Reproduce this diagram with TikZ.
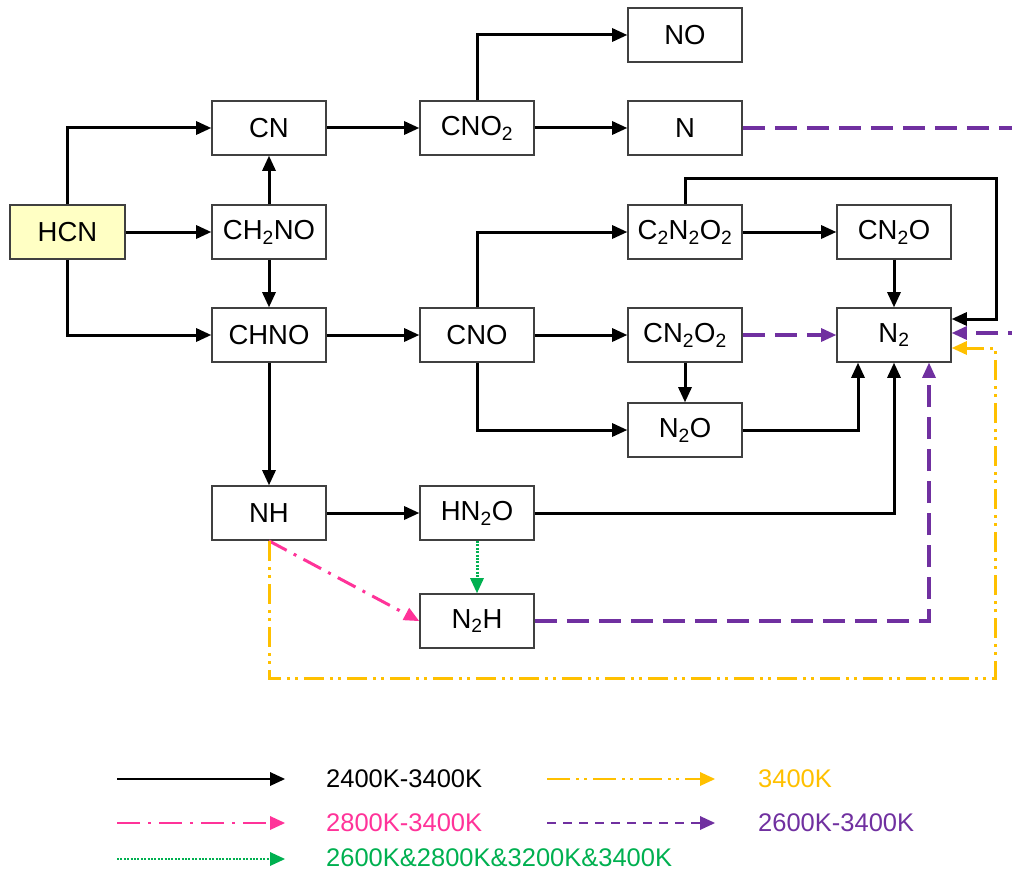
\documentclass[tikz,border=0pt]{standalone}
\usepackage{fontspec}
\setmainfont{Liberation Sans}
\usetikzlibrary{arrows.meta,calc}
\definecolor{cyel}{HTML}{FFC000}
\definecolor{cpink}{HTML}{FF3399}
\definecolor{cpurp}{HTML}{7030A0}
\definecolor{cgreen}{HTML}{00B050}
\definecolor{hcnfill}{HTML}{FFFFC4}
\definecolor{boxline}{HTML}{404040}
\begin{document}
\begin{tikzpicture}[x=1pt,y=-1pt,
  box/.style={draw=boxline, line width=1.8pt, minimum width=114pt, minimum height=54pt, inner sep=0pt, font=\fontsize{27.5}{32}\selectfont},
  tip/.style={-{Triangle[length=15pt,width=14pt,line width=0pt]}},
  flow/.style={tip, line width=3pt, black},
  pflow/.style={tip, line width=3.2pt, cpurp, dash pattern=on 22pt off 10pt},
  kflow/.style={tip, line width=3pt, cpink, dash pattern=on 20pt off 8pt on 3pt off 8pt},
  yflow/.style={tip, line width=3pt, cyel, dash pattern=on 20pt off 6pt on 3pt off 5pt on 3pt off 6pt},
  gflow/.style={tip, line width=3pt, cgreen, dash pattern=on 2pt off 1.4pt},
  legtext/.style={anchor=west, inner sep=0pt, font=\fontsize{25.5}{30}\selectfont}
]
\useasboundingbox (0,0) rectangle (1012,872);
\clip (0,0) rectangle (1012,872);

% nodes
\node[box, fill=hcnfill, minimum width=115pt] (HCN) at (67.5,232) {HCN};
\node[box] (CN) at (269,128) {CN};
\node[box] (CH2NO) at (269,232) {CH\textsubscript{2}NO};
\node[box] (CHNO) at (269,335) {CHNO};
\node[box] (NH) at (269,513) {NH};
\node[box] (CNO2) at (477,128) {CNO\textsubscript{2}};
\node[box] (CNO) at (477,335) {CNO};
\node[box] (HN2O) at (477,513) {HN\textsubscript{2}O};
\node[box] (N2H) at (477,621) {N\textsubscript{2}H};
\node[box] (NO) at (685,35) {NO};
\node[box] (N) at (685,128) {N};
\node[box] (C2N2O2) at (685,232) {C\textsubscript{2}N\textsubscript{2}O\textsubscript{2}};
\node[box] (CN2O2) at (685,335) {CN\textsubscript{2}O\textsubscript{2}};
\node[box] (N2O) at (685,430) {N\textsubscript{2}O};
\node[box] (CN2O) at (894,232) {CN\textsubscript{2}O};
\node[box] (N2) at (894,335) {N\textsubscript{2}};

% helper coordinates
\coordinate (topright) at (996,178);
\coordinate (botright) at (995,678);
\coordinate (offright) at (1040,128);

% black connectors
\draw[flow] (HCN.north) |- (CN.west);
\draw[flow] (HCN) -- (CH2NO);
\draw[flow] (HCN.south) |- (CHNO.west);
\draw[flow] (CH2NO) -- (CN);
\draw[flow] (CH2NO) -- (CHNO);
\draw[flow] (CN) -- (CNO2);
\draw[flow] (CNO2.north) |- (NO.west);
\draw[flow] (CNO2) -- (N);
\draw[flow] (CHNO) -- (CNO);
\draw[flow] (CHNO) -- (NH);
\draw[flow] (CNO.north) |- (C2N2O2.west);
\draw[flow] (CNO) -- (CN2O2);
\draw[flow] (CNO.south) |- (N2O.west);
\draw[flow] (C2N2O2.north) |- (topright) |- ([yshift=16pt]N2.east);
\draw[flow] (C2N2O2) -- (CN2O);
\draw[flow] (CN2O) -- (N2);
\draw[flow] (CN2O2) -- (N2O);
\draw[flow] (N2O.east) -| ([xshift=-36pt]N2.south);
\draw[flow] (HN2O.east) -| (N2.south);
\draw[flow] (NH) -- (HN2O);

% coloured connectors
\draw[pflow] (CN2O2) -- (N2);
\draw[pflow] (N.east) -- (offright) |- ([yshift=2pt]N2.east);
\draw[pflow] (N2H.east) -| ([xshift=35pt]N2.south);
\draw[kflow] (NH.south) -- (N2H.west);
\draw[gflow] (HN2O) -- (N2H);
\draw[yflow] (NH.south) |- (botright) |- ([yshift=-13pt]N2.east);

% legend
\coordinate (la1) at (117,779); \coordinate (lb1) at (285,779);
\coordinate (la2) at (117,823); \coordinate (lb2) at (285,823);
\coordinate (la3) at (117,859); \coordinate (lb3) at (285,859);
\coordinate (ra1) at (547,779); \coordinate (rb1) at (715,779);
\coordinate (ra2) at (547,823); \coordinate (rb2) at (715,823);
\draw[flow, line width=2.8pt] (la1) -- (lb1);
\draw[kflow, line width=2.8pt, dash pattern=on 23pt off 8pt on 3pt off 8pt] (la2) -- (lb2);
\draw[gflow, line width=2.8pt] (la3) -- (lb3);
\draw[yflow, line width=2.8pt, dash pattern=on 23pt off 6pt on 3pt off 5pt on 3pt off 6pt] (ra1) -- (rb1);
\draw[pflow, line width=2.8pt, dash pattern=on 9pt off 7pt] (ra2) -- (rb2);
\node[legtext] (t1) at (326,779) {2400K-3400K};
\node[legtext, text=cpink] (t2) at (326,823) {2800K-3400K};
\node[legtext, text=cgreen] (t3) at (326,858) {2600K\&2800K\&3200K\&3400K};
\node[legtext, text=cyel] (t4) at (758,779) {3400K};
\node[legtext, text=cpurp] (t5) at (758,823) {2600K-3400K};
\end{tikzpicture}
\end{document}
